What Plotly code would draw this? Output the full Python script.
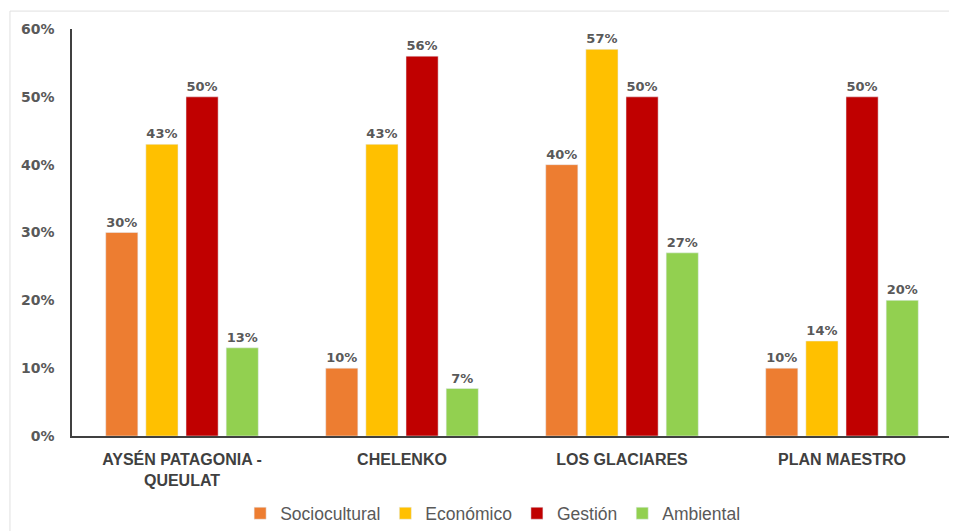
import plotly.graph_objects as go

categories = ["AYSÉN PATAGONIA -<br>QUEULAT", "CHELENKO", "LOS GLACIARES", "PLAN MAESTRO"]
series_names = ["Sociocultural", "Económico", "Gestión", "Ambiental"]
sociocultural = [0.30, 0.10, 0.40, 0.10]
economico = [0.43, 0.43, 0.57, 0.14]
gestion = [0.50, 0.56, 0.50, 0.50]
ambiental = [0.13, 0.07, 0.27, 0.20]
y_ticks = [0, 0.1, 0.2, 0.3, 0.4, 0.5, 0.6]

colors = ["#ED7D31", "#FFC000", "#C00000", "#92D050"]
values = [sociocultural, economico, gestion, ambiental]

fig = go.Figure()
for name, vals, col in zip(series_names, values, colors):
    fig.add_trace(go.Bar(
        x=categories, y=vals, name=name, marker_color=col,
        texttemplate="%{y:.0%}", textposition="outside", cliponaxis=False,
        textfont=dict(family="DejaVu Sans", size=13, color="#595959", weight="bold"),
    ))

fig.update_layout(
    width=949, height=523,
    margin=dict(l=64, r=5, t=21, b=95, autoexpand=False),
    paper_bgcolor="white", plot_bgcolor="white",
    barmode="group", bargap=0.27, bargroupgap=0.2,
    uniformtext=dict(minsize=8, mode="show"),
    showlegend=True,
    legend=dict(orientation="h", x=0.478, xanchor="center", y=-0.19, yanchor="middle",
                font=dict(family="Liberation Sans", size=17.5, color="#595959"),
                itemwidth=30, traceorder="normal", tracegroupgap=0),
    xaxis=dict(showline=True, linecolor="#404040", linewidth=2, ticks="", automargin=False,
               ticklabelstandoff=8,
               tickfont=dict(family="Liberation Sans", size=16, color="#404040", weight="bold")),
    yaxis=dict(range=[0, 0.6], tickvals=y_ticks, tickformat=".0%", showgrid=False, automargin=False,
               showline=True, linecolor="#404040", linewidth=1.5, zeroline=False, ticks="",
               ticklabelstandoff=13,
               tickfont=dict(family="DejaVu Sans", size=14, color="#595959", weight="bold")),
    shapes=[dict(type="rect", xref="paper", yref="paper", x0=-0.0705, x1=1.02, y0=-0.3, y1=1.044,
                 line=dict(color="#e0e0e0", width=1), fillcolor="rgba(0,0,0,0)", layer="below")],
)

fig.write_html("out.html")
